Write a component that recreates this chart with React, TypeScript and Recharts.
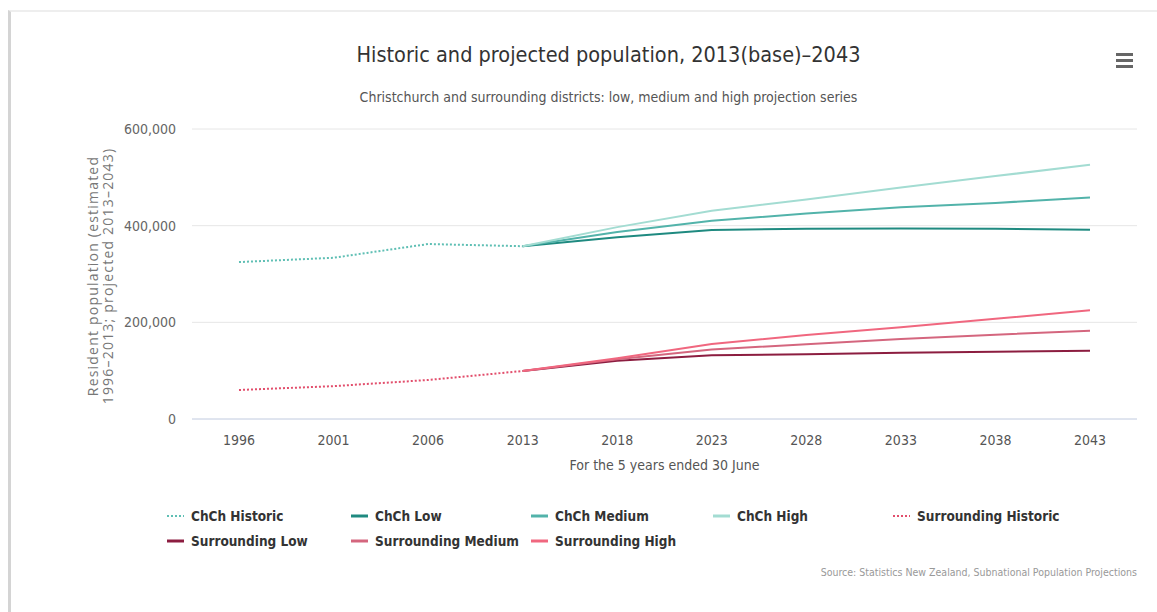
import React from 'react';
import { LineChart, Line, XAxis, YAxis, CartesianGrid } from 'recharts';

const years = ['1996', '2001', '2006', '2013', '2018', '2023', '2028', '2033', '2038', '2043'];
const chchHistoric = [324700, 333600, 362000, 357500, null, null, null, null, null, null];
const chchLow = [null, null, null, 357500, 376000, 391000, 393600, 394000, 393600, 391600];
const chchMedium = [null, null, null, 357500, 387000, 410000, 425000, 438000, 447000, 458500];
const chchHigh = [null, null, null, 357500, 397000, 431000, 454000, 479000, 502600, 526000];
const surrHistoric = [60000, 68000, 80700, 99300, null, null, null, null, null, null];
const surrLow = [null, null, null, 99300, 120600, 132000, 133800, 137000, 139000, 141300];
const surrMedium = [null, null, null, 99300, 123500, 144000, 154500, 165500, 174400, 182600];
const surrHigh = [null, null, null, 99300, 125500, 155000, 173700, 189600, 207500, 224800];
const yTicks = [0, 200000, 400000, 600000];

const series = [
  { key: 'chchHistoric', name: 'ChCh Historic', color: '#5fbfb4', dotted: true },
  { key: 'chchLow', name: 'ChCh Low', color: '#1f8a80', dotted: false },
  { key: 'chchMedium', name: 'ChCh Medium', color: '#52b3aa', dotted: false },
  { key: 'chchHigh', name: 'ChCh High', color: '#a3dcd2', dotted: false },
  { key: 'surrHistoric', name: 'Surrounding Historic', color: '#e24e6c', dotted: true },
  { key: 'surrLow', name: 'Surrounding Low', color: '#8c1d40', dotted: false },
  { key: 'surrMedium', name: 'Surrounding Medium', color: '#d4667e', dotted: false },
  { key: 'surrHigh', name: 'Surrounding High', color: '#f0677f', dotted: false },
];

const seriesValues: Record<string, (number | null)[]> = {
  chchHistoric, chchLow, chchMedium, chchHigh, surrHistoric, surrLow, surrMedium, surrHigh,
};

const data = years.map((y, i) => {
  const row: Record<string, any> = { year: y };
  Object.keys(seriesValues).forEach((k) => { row[k] = seriesValues[k][i]; });
  return row;
});

const condensed = '"Liberation Sans Narrow", "DejaVu Sans Condensed", "Arial Narrow", sans-serif';

const legendPositions = [
  [167, 508], [351, 508], [531, 508], [713, 508], [893, 508],
  [167, 533], [351, 533], [531, 533],
];

export default function App() {
  return (
    <div style={{ position: 'absolute', left: 0, top: 0, width: 1157, height: 612, background: '#fff', overflow: 'hidden' }}>
      <div style={{ position: 'absolute', left: 8, top: 10, width: 1160, height: 620, borderLeft: '3px solid #d4d4d4', borderTop: '2px solid #eeeeee' }} />
      <div style={{ position: 'absolute', left: 0, width: 1217, top: 42, textAlign: 'center', fontFamily: condensed, fontSize: 21.5, color: '#333' }}>
        Historic and projected population, 2013(base)–2043
      </div>
      <div style={{ position: 'absolute', left: 0, width: 1217, top: 89, textAlign: 'center', fontFamily: condensed, fontSize: 14, color: '#555' }}>
        Christchurch and surrounding districts: low, medium and high projection series
      </div>
      <svg style={{ position: 'absolute', left: 1115, top: 52 }} width={20} height={18}>
        <rect x={1} y={1} width={17} height={3} fill="#666" />
        <rect x={1} y={7} width={17} height={3} fill="#666" />
        <rect x={1} y={13} width={17} height={3} fill="#666" />
      </svg>
      <div style={{
        position: 'absolute', left: 100, top: 276, transform: 'translate(-50%, -50%) rotate(-90deg)',
        fontFamily: '"Open Sans", sans-serif', fontSize: 14, color: '#777', textAlign: 'center',
        lineHeight: '15px', whiteSpace: 'nowrap', letterSpacing: 1.2,
      }}>
        Resident population (estimated<br />1996–2013; projected 2013–2043)
      </div>
      <div style={{ position: 'absolute', left: 192, width: 945, top: 457, textAlign: 'center', fontFamily: condensed, fontSize: 14, color: '#555' }}>
        For the 5 years ended 30 June
      </div>
      <div style={{ position: 'absolute', right: 20, top: 566, fontFamily: condensed, fontSize: 10.5, color: '#999' }}>
        Source: Statistics New Zealand, Subnational Population Projections
      </div>
      {series.map((s, i) => (
        <div
          key={s.key}
          style={{
            position: 'absolute', left: legendPositions[i][0], top: legendPositions[i][1],
            display: 'flex', alignItems: 'center', fontFamily: condensed, fontWeight: 'bold',
            fontSize: 13.5, color: '#333', whiteSpace: 'nowrap',
          }}
        >
          <svg width={20} height={10} style={{ marginRight: 4 }}>
            <line x1={0} y1={5} x2={17} y2={5} stroke={s.color} strokeWidth={s.dotted ? 2 : 3}
              strokeDasharray={s.dotted ? '2 2' : undefined} />
          </svg>
          {s.name}
        </div>
      ))}
      <div style={{ position: 'absolute', left: 0, top: 0 }}>
        <LineChart width={1157} height={612} data={data} margin={{ top: 129, right: 20, left: 0, bottom: 163 }}>
          <CartesianGrid vertical={false} stroke="#e6e6e6" />
          <XAxis
            dataKey="year"
            height={30}
            axisLine={{ stroke: '#ccd6eb' }}
            tickLine={false}
            tickMargin={10}
            padding={{ left: 47, right: 47 }}
            tick={{ fontFamily: condensed, fontSize: 14, fill: '#555' }}
            interval={0}
          />
          <YAxis
            width={192}
            domain={[0, 600000]}
            ticks={yTicks}
            axisLine={false}
            tickLine={false}
            tickSize={0}
            tickMargin={16}
            tickFormatter={(v: number) => v.toLocaleString('en-US')}
            tick={{ fontFamily: condensed, fontSize: 14, fill: '#666' }}
          />
          {series.map((s) => (
            <Line
              key={s.key}
              type="linear"
              dataKey={s.key}
              name={s.name}
              stroke={s.color}
              strokeWidth={2}
              strokeDasharray={s.dotted ? '2 2' : undefined}
              dot={false}
              activeDot={false}
              connectNulls={false}
              isAnimationActive={false}
            />
          ))}
        </LineChart>
      </div>
    </div>
  );
}
